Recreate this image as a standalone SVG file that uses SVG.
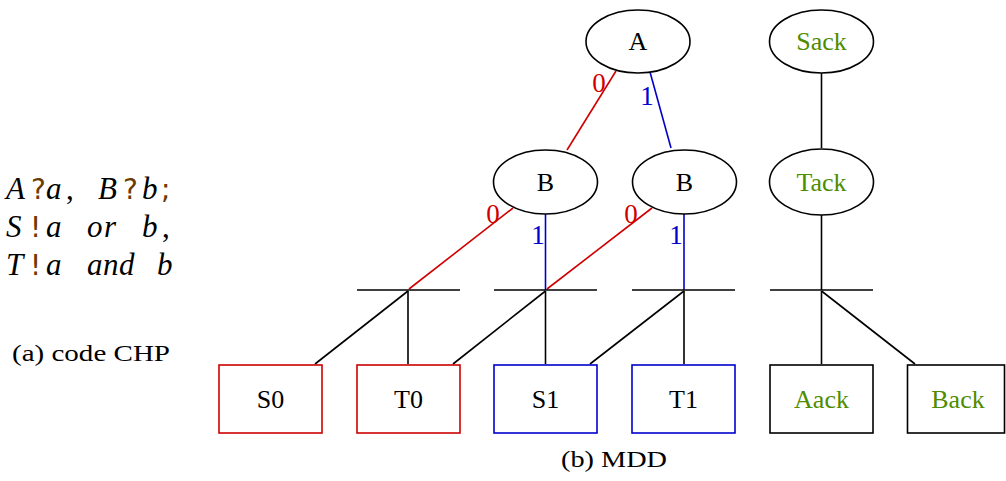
<svg xmlns="http://www.w3.org/2000/svg" width="1006" height="481" viewBox="0 0 1006 481">
<style>
.bg{fill:#ffffff}
.node{fill:#ffffff;stroke:#000000;stroke-width:1.6}
.bar{stroke:#000000;stroke-width:1.6;fill:none}
.blk{stroke:#000000;stroke-width:1.6;fill:none}
.red{stroke:#d00000;stroke-width:1.6;fill:none}
.blu{stroke:#0000cc;stroke-width:1.6;fill:none}
.rbox{fill:#ffffff;stroke:#cc0000;stroke-width:1.6}
.bbox{fill:#ffffff;stroke:#0000cc;stroke-width:1.6}
.kbox{fill:#ffffff;stroke:#000000;stroke-width:1.6}
.lbl{font-family:"Liberation Serif","DejaVu Serif",serif;font-size:26px;text-anchor:middle;fill:#000000}
.grn{fill:#4e8c00}
.el{font-family:"Liberation Serif","DejaVu Serif",serif;font-size:27px;text-anchor:middle}
.er{fill:#d00000}
.eb{fill:#0000cc}
.math{font-family:"Liberation Serif","DejaVu Serif",serif;font-size:31px;font-style:italic;fill:#000000}
.op{font-family:"DejaVu Sans","Liberation Sans",sans-serif;font-size:28px;font-style:normal;fill:#6b3a00}
.cap{font-family:"Liberation Serif","DejaVu Serif",serif;font-size:23px;fill:#000000}
</style>
<rect class="bg" x="0" y="0" width="1006" height="481"/>

<g id="code">
<text class="math" y="199"><tspan x="6">A</tspan><tspan class="op" x="31">?</tspan><tspan x="46">a</tspan><tspan x="66" font-style="normal">,</tspan><tspan x="98">B</tspan><tspan class="op" x="123">?</tspan><tspan x="142">b</tspan><tspan class="op" x="161">;</tspan></text>
<text class="math" y="237"><tspan x="6">S</tspan><tspan class="op" x="30">!</tspan><tspan x="46">a</tspan><tspan x="87">o</tspan><tspan x="104">r</tspan><tspan x="142">b</tspan><tspan x="162" font-style="normal">,</tspan></text>
<text class="math" y="275"><tspan x="6">T</tspan><tspan class="op" x="30">!</tspan><tspan x="46">a</tspan><tspan x="87">a</tspan><tspan x="103">n</tspan><tspan x="119">d</tspan><tspan x="157">b</tspan></text>
<text class="cap" x="12" y="361" textLength="158" lengthAdjust="spacingAndGlyphs">(a) code CHP</text>
</g>

<g id="connectors">
<line class="red" x1="616" y1="71" x2="567" y2="150"/>
<line class="blu" x1="650" y1="72" x2="671" y2="148"/>
<line class="red" x1="513" y1="208" x2="409" y2="289"/>
<line class="blu" x1="545.5" y1="214" x2="545.5" y2="290"/>
<line class="red" x1="652" y1="208" x2="547" y2="289"/>
<line class="blu" x1="684" y1="214" x2="684" y2="290"/>
<line class="blk" x1="821.5" y1="73" x2="821.5" y2="148"/>
<line class="blk" x1="821.5" y1="215" x2="821.5" y2="290"/>
<line class="blk" x1="408" y1="291" x2="315" y2="364"/>
<line class="blk" x1="408" y1="291" x2="408" y2="364"/>
<line class="blk" x1="545.5" y1="291" x2="453" y2="364"/>
<line class="blk" x1="545.5" y1="291" x2="545.5" y2="364"/>
<line class="blk" x1="684" y1="291" x2="590" y2="364"/>
<line class="blk" x1="684" y1="291" x2="684" y2="364"/>
<line class="blk" x1="821.5" y1="291" x2="821.5" y2="364"/>
<line class="blk" x1="821.5" y1="291" x2="915" y2="364"/>
<text class="el er" x="599" y="92">0</text>
<text class="el eb" x="647" y="105">1</text>
<text class="el er" x="493" y="223">0</text>
<text class="el eb" x="538" y="244">1</text>
<text class="el er" x="631" y="223">0</text>
<text class="el eb" x="676" y="244">1</text>
</g>

<g id="bar1"><line class="bar" x1="357" y1="290" x2="460" y2="290"/></g>
<g id="bar2"><line class="bar" x1="494" y1="290" x2="597" y2="290"/></g>
<g id="bar3"><line class="bar" x1="632" y1="290" x2="735" y2="290"/></g>
<g id="bar4"><line class="bar" x1="770" y1="290" x2="873" y2="290"/></g>

<g id="nodeA"><ellipse class="node" cx="638" cy="41.5" rx="52" ry="31.5"/><text class="lbl" x="638" y="50">A</text></g>
<g id="nodeSack"><ellipse class="node" cx="821.5" cy="41.5" rx="52" ry="31.5"/><text class="lbl grn" x="821.5" y="50">Sack</text></g>
<g id="nodeB1"><ellipse class="node" cx="545.5" cy="182" rx="52" ry="32"/><text class="lbl" x="545.5" y="191">B</text></g>
<g id="nodeB2"><ellipse class="node" cx="684.5" cy="182" rx="52" ry="32"/><text class="lbl" x="684.5" y="191">B</text></g>
<g id="nodeTack"><ellipse class="node" cx="821.5" cy="182" rx="52" ry="33"/><text class="lbl grn" x="821.5" y="191">Tack</text></g>

<g id="S0"><rect class="rbox" x="219" y="365" width="103" height="68"/><text class="lbl" x="270.5" y="408">S0</text></g>
<g id="T0"><rect class="rbox" x="357" y="365" width="103" height="68"/><text class="lbl" x="408.5" y="408">T0</text></g>
<g id="S1"><rect class="bbox" x="494" y="365" width="103" height="68"/><text class="lbl" x="545.5" y="408">S1</text></g>
<g id="T1"><rect class="bbox" x="632" y="365" width="103" height="68"/><text class="lbl" x="683.5" y="408">T1</text></g>
<g id="Aack"><rect class="kbox" x="770" y="365" width="103" height="68"/><text class="lbl grn" x="821.5" y="408">Aack</text></g>
<g id="Back"><rect class="kbox" x="907.5" y="365" width="97" height="68"/><text class="lbl grn" x="958" y="408">Back</text></g>

<text class="cap" x="561" y="467" textLength="106" lengthAdjust="spacingAndGlyphs">(b) MDD</text>
</svg>
